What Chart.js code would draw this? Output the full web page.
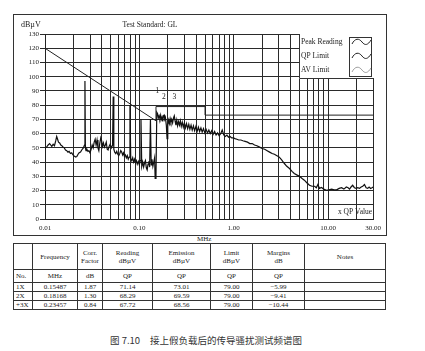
<!DOCTYPE html>
<html>
<head>
<meta charset="utf-8">
<script src="https://cdn.jsdelivr.net/npm/chart.js@4/dist/chart.umd.min.js"></script>
<style>
  body { margin: 0; background: #fff; width: 425px; height: 351px; position: relative; overflow: hidden; color: #222; }
  #marco { position: absolute; left: 13px; top: 14px; width: 372px; height: 220px; border: 1px solid #333; }
  #mhz { position: absolute; left: 197px; top: 235px; font: 7px "Liberation Serif", serif; }
  #tabla { position: absolute; left: 13px; top: 243px; width: 372px; border-collapse: collapse; table-layout: fixed;
           font: 7px "Liberation Serif", serif; }
  #tabla td, #tabla th { border: 1px solid #333; padding: 0; text-align: center; font-weight: normal; line-height: 8px; overflow: hidden; }
  #tabla td.izq { text-align: left; padding-left: 2px; }
  #tabla tr.h1 th { height: 25px; }
  #tabla tr.h2 td { height: 12px; }
  #tabla tr.fila td { height: 8px; }
  #pie { position: absolute; left: 110px; top: 333px; font: 9.5px "Noto Sans CJK SC", sans-serif; color: #333; white-space: nowrap; }
</style>
</head>
<body>
<div id="marco"><canvas id="miGrafico" width="372" height="220"></canvas></div>
<div id="mhz">MHz</div>
<table id="tabla">
  <colgroup>
    <col style="width:19px"><col style="width:45px"><col style="width:25px"><col style="width:50px">
    <col style="width:58px"><col style="width:42px"><col style="width:52px"><col style="width:81px">
  </colgroup>
  <tr class="h1"><th></th><th>Frequency</th><th>Corr.<br>Factor</th><th>Reading<br>dBµV</th><th>Emission<br>dBµV</th><th>Limit<br>dBµV</th><th>Margins<br>dB</th><th>Notes</th></tr>
  <tr class="h2"><td class="izq">No.</td><td>MHz</td><td>dB</td><td>QP</td><td>QP</td><td>QP</td><td>QP</td><td></td></tr>
</table>
<div id="pie"><span>图 7.10</span><span style="margin-left:10px">接上假负载后的传导骚扰测试频谱图</span></div>

<script>
// Peak reading trace (MHz, dBµV)
const freqMHz = [
  0.0100, 0.0104, 0.0108, 0.0112, 0.0115, 0.0118, 0.0122, 0.0126, 0.0130, 0.0133,
  0.0136, 0.0139, 0.0143, 0.0147, 0.0151, 0.0155, 0.0160, 0.0165, 0.0170, 0.0175,
  0.0180, 0.0186, 0.0192, 0.0198, 0.0205, 0.0212, 0.0218, 0.0224, 0.0230, 0.0238,
  0.0245, 0.0255, 0.0262, 0.0265, 0.0268, 0.0272, 0.0278, 0.0285, 0.0292, 0.0300,
  0.0308, 0.0316, 0.0324, 0.0332, 0.0340, 0.0348, 0.0356, 0.0364, 0.0372, 0.0380,
  0.0390, 0.0398, 0.0406, 0.0416, 0.0426, 0.0436, 0.0446, 0.0456, 0.0466, 0.0478,
  0.0490, 0.0505, 0.0520, 0.0528, 0.0536, 0.0548, 0.0562, 0.0576, 0.0590, 0.0605,
  0.0620, 0.0635, 0.0650, 0.0665, 0.0680, 0.0695, 0.0710, 0.0728, 0.0745, 0.0762,
  0.0780, 0.0795, 0.0810, 0.0830, 0.0850, 0.0870, 0.0890, 0.0910, 0.0930, 0.0950,
  0.0975, 0.1000, 0.1020, 0.1040, 0.1060, 0.1085, 0.1110, 0.1135, 0.1160, 0.1185,
  0.1210, 0.1235, 0.1260, 0.1285, 0.1310, 0.1335, 0.1360, 0.1390, 0.1420, 0.1450,
  0.1470, 0.1500, 0.1530, 0.1560, 0.1590, 0.1620, 0.1650, 0.1680, 0.1710, 0.1740,
  0.1770, 0.1800, 0.1830, 0.1860, 0.1890, 0.1930, 0.1965, 0.2000, 0.2040, 0.2080,
  0.2120, 0.2160, 0.2200, 0.2250, 0.2300, 0.2345, 0.2390, 0.2440, 0.2490, 0.2540,
  0.2600, 0.2660, 0.2720, 0.2780, 0.2850, 0.2920, 0.3000, 0.3080, 0.3160, 0.3250,
  0.3340, 0.3430, 0.3530, 0.3630, 0.3740, 0.3850, 0.3970, 0.4090, 0.4220, 0.4350,
  0.4490, 0.4630, 0.4780, 0.4940, 0.5100, 0.5270, 0.5450, 0.5640, 0.5840, 0.6050,
  0.6270, 0.6500, 0.6740, 0.7000, 0.7270, 0.7550, 0.7840, 0.8150, 0.8470, 0.8800,
  0.9150, 0.9520, 0.9900, 1.0300, 1.0800, 1.1300, 1.1900, 1.2500, 1.3200, 1.4000,
  1.4800, 1.5700, 1.6600, 1.7600, 1.8800, 2.0000, 2.1300, 2.2600, 2.4000, 2.5500,
  2.7000, 2.8700, 3.0400, 3.2200, 3.4400, 3.6500, 3.9000, 4.1500, 4.3800, 4.6500,
  4.9800, 5.3000, 5.6000, 5.9500, 6.3500, 6.7500, 7.2000, 7.5000, 7.8000, 8.1000,
  8.5000, 9.0000, 9.6000, 10.200, 10.900, 11.600, 12.300, 13.100, 13.900, 14.700,
  15.600, 16.300, 16.900, 17.500, 18.200, 19.000, 19.800, 20.600, 21.500, 22.400,
  23.300, 24.300, 25.300, 26.300, 27.200, 28.200, 29.200, 30.000
];
const peakReading = [
  50.0, 50.5, 52.0, 53.0, 52.0, 51.0, 52.5, 51.5, 55.0, 58.0,
  56.0, 54.0, 53.5, 52.0, 51.5, 50.5, 50.0, 48.5, 48.0, 47.0,
  47.5, 46.0, 46.5, 45.0, 44.0, 43.5, 44.0, 45.5, 46.5, 47.0,
  48.5, 50.0, 52.0, 97.0, 50.0, 48.0, 49.0, 47.5, 48.0, 46.5,
  49.0, 52.0, 50.0, 54.0, 56.0, 52.0, 55.5, 50.0, 48.0, 53.0,
  57.0, 55.0, 51.0, 53.5, 50.5, 52.0, 54.0, 49.0, 48.5, 51.0,
  52.5, 50.0, 52.0, 86.0, 49.0, 47.0, 46.0, 47.5, 45.5, 44.5,
  46.0, 48.0, 47.0, 45.0, 46.5, 44.0, 45.0, 43.0, 44.5, 42.0,
  43.5, 80.0, 42.5, 41.0, 43.0, 40.0, 42.0, 39.5, 41.0, 38.5,
  40.5, 38.0, 41.0, 70.0, 37.0, 40.0, 36.5, 39.5, 41.0, 36.0,
  34.5, 38.5, 40.5, 36.5, 70.0, 38.0, 42.0, 37.0, 40.0, 43.0,
  28.5, 31.0, 75.0, 74.0, 71.0, 72.5, 70.5, 73.0, 70.0, 71.5,
  68.5, 72.5, 73.0, 70.0, 71.0, 66.0, 56.5, 66.0, 69.5, 67.0,
  70.5, 68.0, 70.0, 67.5, 71.0, 72.5, 69.0, 66.0, 69.5, 65.5,
  68.5, 66.0, 69.0, 65.0, 68.0, 64.5, 67.5, 64.0, 67.0, 63.5,
  66.5, 63.0, 66.0, 62.5, 65.5, 62.0, 65.0, 61.5, 64.5, 61.5,
  64.0, 61.0, 63.5, 60.5, 63.0, 60.5, 62.5, 60.0, 62.0, 59.5,
  61.5, 59.0, 60.5, 58.5, 60.0, 62.5, 59.0, 58.0, 59.0, 57.5,
  58.0, 57.0, 57.0, 56.5, 56.0, 55.5, 55.5, 55.0, 54.5, 54.0,
  53.0, 53.0, 52.0, 51.5, 50.5, 49.5, 49.0, 48.0, 47.0, 46.0,
  45.5, 44.5, 43.5, 41.5, 39.0, 37.0, 35.5, 33.5, 32.0, 31.0,
  30.0, 28.5, 27.3, 25.5, 23.7, 23.0, 23.0, 22.0, 24.3, 21.5,
  22.1, 21.0, 20.2, 20.5, 21.0, 20.5, 20.5, 21.5, 22.0, 21.0,
  22.5, 22.0, 21.0, 22.5, 23.7, 22.0, 21.5, 22.0, 21.5, 22.5,
  23.0, 24.3, 22.0, 21.5, 22.5, 21.5, 22.0, 22.5
];

// Limite QP de la norma GL
const qpLimitFreq = [0.01, 0.15, 0.15, 0.5, 0.5, 30];
const qpLimitValue = [120, 69, 79, 79, 73, 73];

// Ejes
const xTickValues = [
  0.01, 0.02, 0.03, 0.04, 0.05, 0.06, 0.07, 0.08, 0.09,
  0.1, 0.2, 0.3, 0.4, 0.5, 0.6, 0.7, 0.8, 0.9,
  1, 2, 3, 4, 5, 6, 7, 8, 9,
  10, 20, 30
];
const xLabelValues = [0.01, 0.1, 1, 10, 30];
const xLabelTexts = ['0.01', '0.10', '1.00', '10.00', '30.00'];
const legendLabels = ['Peak Reading', 'QP Limit', 'AV Limit'];

// Tabla de marcadores
const markerNo = ['1X', '2X', '+3X'];
const markerFreq = [0.15487, 0.18168, 0.23457];
const corrFactor = ['1.87', '1.30', '0.84'];
const readingQP = ['71.14', '68.29', '67.72'];
const emissionQP = ['73.01', '69.59', '68.56'];
const limitQP = ['79.00', '79.00', '79.00'];
const marginsQP = ['\u22125.99', '\u22129.41', '\u221210.44'];

const serif = '"Liberation Serif", "Times New Roman", serif';
Chart.defaults.font.family = serif;
Chart.defaults.font.size = 7;
Chart.defaults.color = '#222';

// Textos sueltos dentro del marco
const textos = {
  id: 'textos',
  afterDraw(chart) {
    const { ctx, chartArea } = chart;
    const xs = chart.scales.x, ys = chart.scales.y;
    ctx.save();
    ctx.fillStyle = '#222';
    ctx.textBaseline = 'middle';
    ctx.font = '8px ' + serif;
    ctx.textAlign = 'left';
    ctx.fillText('dBµV', 7, 10);
    ctx.font = '7.5px ' + serif;
    ctx.textAlign = 'center';
    ctx.fillText('Test Standard: GL', 136, 10);
    ctx.textAlign = 'right';
    ctx.fillText('x QP Value', chartArea.right - 1, chartArea.bottom - 7);
    // numeros de marcador
    const niveles = [90, 85.5, 85.5];
    ctx.textAlign = 'center';
    markerFreq.forEach((f, i) => {
      ctx.fillText(String(i + 1), xs.getPixelForValue(f), ys.getPixelForValue(niveles[i]));
    });
    ctx.restore();
  }
};

// Leyenda en la esquina superior derecha
const leyenda = {
  id: 'leyenda',
  afterDraw(chart) {
    const { ctx, chartArea } = chart;
    const right = Math.round(chartArea.right) + 1;
    const top = Math.round(chartArea.top);
    const left = right - 75;
    const bottom = top + 45;
    ctx.save();
    ctx.fillStyle = '#fff';
    ctx.fillRect(left, top, right - left, bottom - top);
    ctx.strokeStyle = '#333';
    ctx.lineWidth = 1;
    ctx.beginPath();
    ctx.moveTo(left + 0.5, top);
    ctx.lineTo(left + 0.5, bottom - 0.5);
    ctx.lineTo(right, bottom - 0.5);
    ctx.stroke();
    ctx.strokeRect(right - 24.5, top + 3.5, 22, 39);

    ctx.font = '7.5px ' + serif;
    ctx.fillStyle = '#222';
    ctx.textAlign = 'left';
    ctx.textBaseline = 'middle';
    legendLabels.forEach((txt, i) => {
      const cy = top + 8 + i * 14;
      ctx.fillText(txt, left + 2, cy);
      const x0 = right - 22;
      ctx.strokeStyle = i === 2 ? '#777' : '#222';
      ctx.lineWidth = i === 2 ? 0.7 : 1;
      ctx.beginPath();
      ctx.moveTo(x0, cy + 2);
      ctx.bezierCurveTo(x0 + 3, cy - 4, x0 + 7, cy - 4, x0 + 10, cy);
      ctx.bezierCurveTo(x0 + 13, cy + 4, x0 + 16, cy + 3, x0 + 19, cy - 2);
      ctx.stroke();
    });
    ctx.restore();
  }
};

function crearGrafico() {
  const ctx = document.getElementById('miGrafico').getContext('2d');
  const traza = freqMHz.map((f, i) => ({ x: f, y: peakReading[i] }));
  const limite = qpLimitFreq.map((f, i) => ({ x: f, y: qpLimitValue[i] }));

  new Chart(ctx, {
    type: 'scatter',
    data: {
      datasets: [
        { label: legendLabels[0], data: traza, showLine: true, borderColor: '#111', borderWidth: 1.2, pointRadius: 0, tension: 0 },
        { label: legendLabels[1], data: limite, showLine: true, borderColor: '#222', borderWidth: 1, pointRadius: 0, tension: 0 }
      ]
    },
    options: {
      responsive: false,
      animation: false,
      layout: { padding: { top: 19, right: 11, left: 0, bottom: 0 } },
      plugins: { legend: { display: false }, tooltip: { enabled: false } },
      scales: {
        x: {
          type: 'logarithmic',
          min: 0.01,
          max: 30,
          afterBuildTicks: (scale) => { scale.ticks = xTickValues.map(v => ({ value: v })); },
          afterFit: (scale) => { scale.height = 16; },
          ticks: {
            autoSkip: false,
            maxRotation: 0,
            padding: 5,
            callback: (value) => {
              const i = xLabelValues.indexOf(value);
              return i >= 0 ? xLabelTexts[i] : '';
            }
          },
          grid: { color: '#2a2a2a', lineWidth: 1, drawTicks: false },
          border: { color: '#222' }
        },
        y: {
          min: 0,
          max: 130,
          afterFit: (scale) => { scale.width = 31; },
          ticks: { stepSize: 10, padding: 1 },
          grid: { color: '#2a2a2a', lineWidth: 1, tickLength: 5 },
          border: { color: '#222' }
        }
      }
    },
    plugins: [textos, leyenda]
  });
}

// Filas de la tabla
function llenarTabla() {
  const tabla = document.getElementById('tabla');
  markerNo.forEach((no, i) => {
    const tr = document.createElement('tr');
    tr.className = 'fila';
    const celdas = [no, markerFreq[i].toFixed(5), corrFactor[i], readingQP[i], emissionQP[i], limitQP[i], marginsQP[i], ''];
    celdas.forEach((txt, j) => {
      const td = document.createElement('td');
      td.textContent = txt;
      if (j === 0) td.className = 'izq';
      tr.appendChild(td);
    });
    tabla.appendChild(tr);
  });
}

llenarTabla();
crearGrafico();
</script>
</body>
</html>
